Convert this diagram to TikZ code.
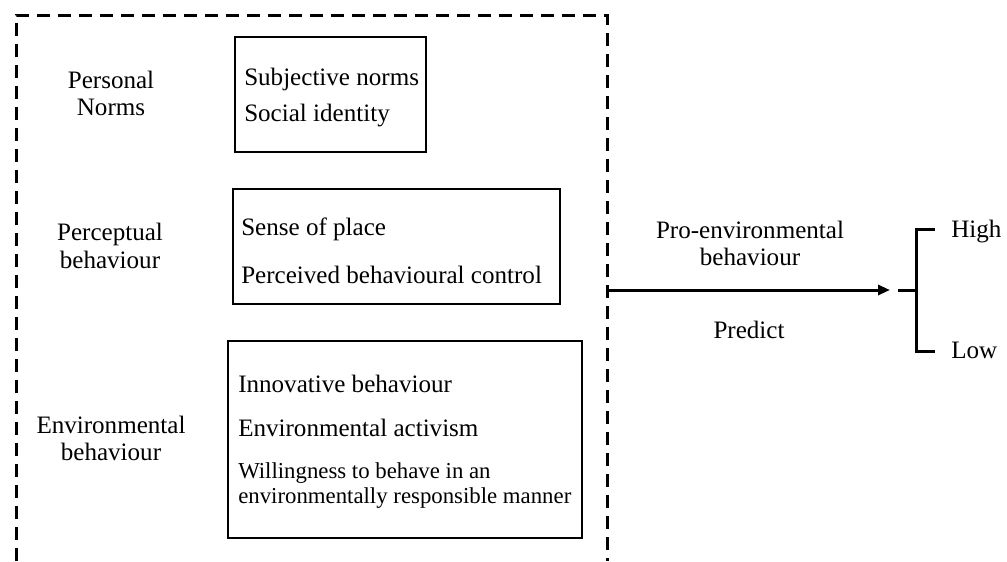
\documentclass[tikz,border=0pt]{standalone}
\usepackage{fontspec}
\setmainfont{Liberation Serif}
\usetikzlibrary{arrows.meta}
\begin{document}
\begin{tikzpicture}[x=0.75pt,y=-0.75pt,
  txt/.style={anchor=base west,inner sep=0pt,font=\fontsize{18.8}{22}\selectfont},
  small/.style={anchor=base west,inner sep=0pt,font=\fontsize{17.1}{20}\selectfont},
  lbl/.style={anchor=base,inner sep=0pt,font=\fontsize{18.8}{22}\selectfont},
  itembox/.style 2 args={draw,line width=1.5pt,inner sep=0pt,
    minimum width=#1*0.75pt,minimum height=#2*0.75pt},
  frame/.style={line width=2.25pt,dash pattern=on 9.75pt off 6pt},
  link/.style={line width=2.25pt},
  arrowlink/.style={link,-{Triangle[length=9pt,width=7.5pt]}}]
\useasboundingbox (0,0) rectangle (1007,561);
\fill[white] (0,0) rectangle (1007,561);

% dashed frame around the three groups, open at the bottom
\coordinate (fbl) at (16,561);
\coordinate (ftl) at (16,15);
\coordinate (ftr) at (607,15);
\coordinate (fbr) at (607,561);
\draw[frame] (fbl) -- (ftl) -- (ftr) -- (fbr);

% group labels
\node[lbl] (pn1) at (111,88) {Personal};
\node[lbl] (pn2) at (111,115) {Norms};
\node[lbl] (pb1) at (110,240) {Perceptual};
\node[lbl] (pb2) at (110,268) {behaviour};
\node[lbl] (eb1) at (111,433) {Environmental};
\node[lbl] (eb2) at (111,460) {behaviour};

% boxes with their factors
\node[itembox={191}{115}] (box1) at (330.5,94.5) {};
\node[txt] (sn) at (244,85) {Subjective norms};
\node[txt] (si) at (244,121.5) {Social identity};

\node[itembox={327}{115}] (box2) at (396.5,246.5) {};
\node[txt] (sp) at (241,235) {Sense of place};
\node[txt] (pbc) at (241,283) {Perceived behavioural control};

\node[itembox={354}{197}] (box3) at (405,439.5) {};
\node[txt] (ib) at (238,392) {Innovative behaviour};
\node[txt] (ea) at (238,436) {Environmental activism};
\node[small] (wb1) at (238,478) {Willingness to behave in an};
\node[small] (wb2) at (238,503) {environmentally responsible manner};

% prediction arrow
\coordinate (a0) at (607,290);
\coordinate (a1) at (890,290);
\draw[arrowlink] (a0) -- (a1);
\node[lbl] (pe1) at (750,238) {Pro-environmental};
\node[lbl] (pe2) at (750,265) {behaviour};
\node[lbl] (pr) at (749,338) {Predict};

% outcome bracket
\node[txt] (high) at (951,237) {High};
\node[txt] (low) at (951,358) {Low};
\coordinate (b0) at (898,290);
\coordinate (bj) at (916,290);
\coordinate (bt) at (916,229);
\coordinate (bb) at (916,351);
\coordinate (ht) at (935,229);
\coordinate (lt) at (935,351);
\draw[link] (b0) -- (bj);
\draw[link] (ht) -- (bt) -- (bb) -- (lt);
\end{tikzpicture}
\end{document}
